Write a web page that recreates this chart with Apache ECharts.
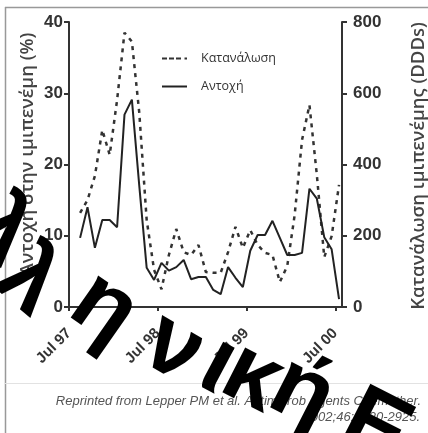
<!DOCTYPE html>
<html><head><meta charset="utf-8">
<script src="https://cdn.jsdelivr.net/npm/echarts@6/dist/echarts.min.js"></script>
<style>html,body{margin:0;padding:0;background:#fff}#c{width:428px;height:433px}</style>
</head><body><div id="c"></div>
<script>
const xTickLabels = ['Jul 97', 'Jul 98', 'Jul 99', 'Jul 00'];
const months = ['1997-08','1997-09','1997-10','1997-11','1997-12','1998-01','1998-02','1998-03','1998-04','1998-05','1998-06','1998-07',
  '1998-08','1998-09','1998-10','1998-11','1998-12','1999-01','1999-02','1999-03','1999-04','1999-05','1999-06','1999-07',
  '1999-08','1999-09','1999-10','1999-11','1999-12','2000-01','2000-02','2000-03','2000-04','2000-05','2000-06','2000-07'];
const resistance = [9.7,14.0,8.3,12.2,12.2,11.2,27.0,29.1,17.0,5.5,3.8,6.2,
  5.1,5.6,6.6,3.9,4.2,4.2,2.4,1.8,5.6,4.1,2.8,7.9,
  10.1,10.1,12.1,9.7,7.3,7.3,7.6,16.6,15.2,9.8,8.1,1.1];
const consumption = [264,300,368,497,427,581,770,745,545,244,104,50,
  146,219,154,146,174,98,96,96,154,225,166,216,
  174,152,146,70,115,258,469,567,371,140,199,343];
const seriesNames = ['Κατανάλωση', 'Αντοχή'];
const leftAxisName = 'Αντοχή στην ιμιπενέμη (%)';
const rightAxisName = 'Κατανάλωση ιμιπενέμης (DDDs)';
const footer1 = 'Reprinted from Lepper PM et al. Antimicrob Agents Chemother.';
const footer2 = '2002;46:2920-2925.';
const watermark = 'Ελληνική Ε';

function monthPos(m) {
  const [y, mo] = m.split('-').map(Number);
  return (y - 1997) * 12 + (mo - 7) + 0.5;
}
const xs = months.map(monthPos);

// watermark letters laid along a gentle arc (decoration, not data)
const wmLayout = [[-50, 200, 45], [0, 232, 42], [28, 282, 40], [104, 309, 35], [173, 349, 30],
  [218, 366, 28], [252, 378, 27], [302, 394, 27], [0, 0, 0], [375, 430, 27]];
const wmGraphics = [];
watermark.split('').forEach((ch, i) => {
  if (ch === ' ') return;
  const p = wmLayout[i];
  wmGraphics.push({type: 'text', x: p[0], y: p[1], rotation: -p[2] * Math.PI / 180, z: 100,
    style: {text: ch, fontFamily: 'Liberation Sans', fontWeight: 'bold', fontSize: 95, fill: '#000',
      textAlign: 'center', textVerticalAlign: 'middle'}});
});

const chart = echarts.init(document.getElementById('c'));
const axisColor = '#333';
const labelFont = {fontFamily: 'Liberation Sans', fontWeight: 'bold', fontSize: 17, color: '#333'};
const dashIcon = 'path://M0,0h5v2h-5z M7,0h5v2h-5z M14,0h5v2h-5z M22.5,0h2.5v2h-2.5z';
const solidIcon = 'path://M0,0h25v2h-25z';
chart.setOption({
  animation: false,
  grid: {left: 69, right: 86, top: 22, bottom: 126},
  legend: {
    orient: 'vertical', left: 157, top: 47, itemWidth: 25, itemHeight: 2.5, itemGap: 15,
    data: [{name: seriesNames[0], icon: dashIcon}, {name: seriesNames[1], icon: solidIcon}],
    textStyle: {fontFamily: 'Open Sans', fontSize: 12.5, color: '#333', padding: [0, 0, 0, 9]}
  },
  xAxis: {
    type: 'value', min: 0, max: 36.9, interval: 12,
    axisLine: {lineStyle: {color: axisColor, width: 2}},
    axisTick: {show: true, length: 4, lineStyle: {color: axisColor, width: 2}},
    splitLine: {show: false},
    axisLabel: Object.assign({}, labelFont, {fontSize: 15, rotate: 45, margin: 24, showMaxLabel: false,
      formatter: v => (v % 12 === 0 ? xTickLabels[v / 12] : '')})
  },
  yAxis: [
    {type: 'value', min: 0, max: 40, interval: 10, position: 'left',
     axisLine: {show: true, lineStyle: {color: axisColor, width: 2}},
     axisTick: {show: true, length: 5, lineStyle: {color: axisColor, width: 2}},
     splitLine: {show: false},
     axisLabel: Object.assign({}, labelFont, {margin: 6})},
    {type: 'value', min: 0, max: 800, interval: 200, position: 'right',
     axisLine: {show: true, lineStyle: {color: axisColor, width: 2}},
     axisTick: {show: true, length: 5, lineStyle: {color: axisColor, width: 2}},
     splitLine: {show: false},
     axisLabel: Object.assign({}, labelFont, {margin: 11})}
  ],
  series: [
    {name: seriesNames[0], type: 'line', yAxisIndex: 1, symbol: 'none',
     data: xs.map((x, i) => [x, consumption[i]]),
     lineStyle: {color: '#333', width: 2.5, type: [4, 5]}, itemStyle: {color: '#333'}},
    {name: seriesNames[1], type: 'line', yAxisIndex: 0, symbol: 'none',
     data: xs.map((x, i) => [x, resistance[i]]),
     lineStyle: {color: '#222', width: 2}, itemStyle: {color: '#222'}}
  ],
  graphic: [
    {type: 'line', shape: {x1: 5, y1: 7.5, x2: 428, y2: 7.5}, style: {stroke: '#999', lineWidth: 1.5}},
    {type: 'line', shape: {x1: 5.5, y1: 7, x2: 5.5, y2: 433}, style: {stroke: '#999', lineWidth: 1.5}},
    {type: 'line', shape: {x1: 5, y1: 383.5, x2: 428, y2: 383.5}, style: {stroke: '#e2e2e2', lineWidth: 1}},
    {type: 'text', x: 28, y: 154, rotation: Math.PI / 2,
     style: {text: leftAxisName, fontFamily: 'Open Sans', fontWeight: 600, fontSize: 18.5, fill: '#444', textAlign: 'center', textVerticalAlign: 'middle'}},
    {type: 'text', x: 419, y: 166, rotation: Math.PI / 2,
     style: {text: rightAxisName, fontFamily: 'Open Sans', fontWeight: 600, fontSize: 18.5, fill: '#444', textAlign: 'center', textVerticalAlign: 'middle'}},
    {type: 'text', x: 421, y: 401,
     style: {text: footer1, fontFamily: 'Liberation Sans', fontStyle: 'italic', fontSize: 13, fill: '#555', textAlign: 'right', textVerticalAlign: 'middle'}},
    {type: 'text', x: 420, y: 417,
     style: {text: footer2, fontFamily: 'Liberation Sans', fontStyle: 'italic', fontSize: 13, fill: '#555', textAlign: 'right', textVerticalAlign: 'middle'}}
  ].concat(wmGraphics)
});
</script></body></html>
